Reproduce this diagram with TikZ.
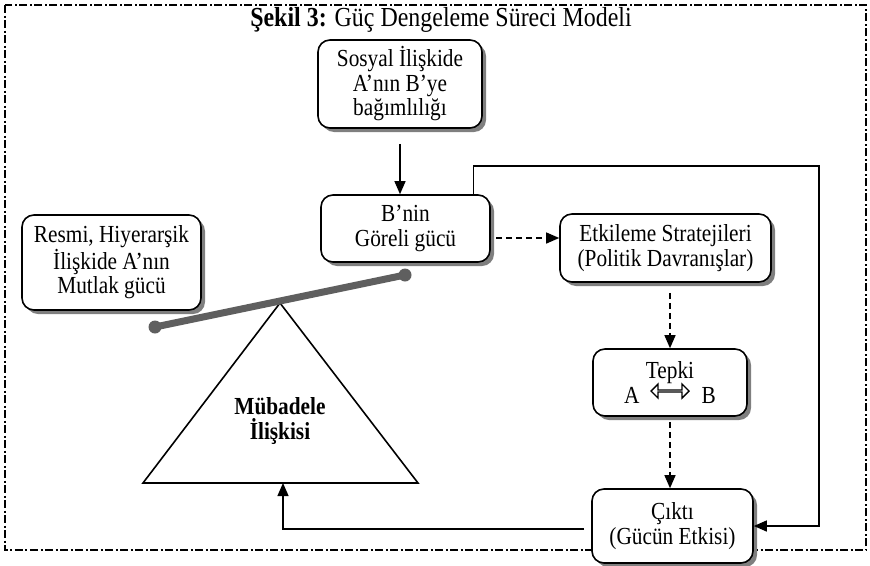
\documentclass[tikz,border=0pt]{standalone}
\usepackage{fontspec}
\setmainfont[FakeStretch=0.87]{Liberation Serif}
\usetikzlibrary{arrows.meta,shadows,shapes.arrows,calc}

\definecolor{shadowgray}{HTML}{7F7F7F}
\definecolor{beamgray}{HTML}{5F5F5F}

\tikzset{
  box/.style={draw, line width=1.6pt, rounded corners=12pt, fill=white,
    align=center, inner sep=2pt,
    drop shadow={shadow xshift=4pt, shadow yshift=-4pt, fill=shadowgray, opacity=1}},
  solidarrow/.style={line width=1.3pt, -{Triangle[length=13pt,width=11pt]}},
  dasharrow/.style={line width=1.3pt, dash pattern=on 6pt off 4pt,
    -{Triangle[length=13pt,width=11pt]}},
  frame/.style={line width=1.7pt, dash pattern=on 8pt off 2.5pt on 2pt off 2.5pt},
}

\begin{document}
\begin{tikzpicture}[x=1pt, y=-1pt, font=\fontsize{24.5}{24.5}\selectfont]
\useasboundingbox (0,0) rectangle (870,565);

% dash-dot frame around the figure
\draw[frame] (5,5) rectangle (866,550);

% title
\node (title) at (441,20) {\fontsize{27.5}{28}\selectfont\textbf{Şekil 3:} Güç Dengeleme Süreci Modeli};

% exchange relation: the fulcrum triangle
\coordinate (apex) at (280,303);
\coordinate (bl) at (143,483);
\coordinate (br) at (418,483);
\coordinate (tribase) at (283,483);
\draw[line width=1.6pt, fill=white] (apex) -- (br) -- (bl) -- cycle;
\node[font=\fontsize{24.5}{24.5}\selectfont\bfseries, align=center] (mub) at (280,421) {Mübadele\\İlişkisi};

% the balance beam resting on the triangle
\coordinate (beamL) at (155,327);
\coordinate (beamR) at (405,275);
\draw[beamgray, line width=7pt] (beamL) -- (beamR);
\fill[beamgray] (beamL) circle (6.5pt) (beamR) circle (6.5pt);

% boxes
\node[box, minimum width=164pt, minimum height=88pt] (sosyal) at (400,84)
  {Sosyal İlişkide\\A’nın B’ye\\bağımlılığı};
\node[box, minimum width=169pt, minimum height=67pt] (bnin) at (405.5,228.5)
  {B’nin\\Göreli gücü};
\node[box, minimum width=179pt, minimum height=95pt] (resmi) at (111.5,262.5)
  {Resmi, Hiyerarşik\\İlişkide A’nın\\Mutlak gücü};
\node[box, minimum width=211pt, minimum height=68pt] (etki) at (665.5,248)
  {Etkileme Stratejileri\\(Politik Davranışlar)};
\node[box, minimum width=154pt, minimum height=67pt] (tepki) at (670,382.5)
  {Tepki\\A\hspace{62pt}B};
\node[double arrow, draw, fill=white, line width=1.4pt, inner sep=0pt,
  minimum width=14pt, minimum height=38pt, double arrow head extend=4pt,
  double arrow head indent=0pt] (ab) at (670,391) {};
\node[box, minimum width=161pt, minimum height=74pt] (cikti) at (672.5,526)
  {Çıktı\\(Gücün Etkisi)};

% connectors
\draw[solidarrow] ([yshift=-15pt]sosyal.south) -- (sosyal.south |- bnin.north);
\coordinate (dstart) at (496,238);
\draw[dasharrow] (dstart) -- (dstart -| etki.west);
\draw[dasharrow] ([yshift=-10pt]etki.south -| tepki.north) -- (tepki.north);
\draw[dasharrow] ([yshift=-5pt]tepki.south) -- (tepki.south |- cikti.north);
\draw[solidarrow] ([xshift=-7pt,yshift=-3pt]cikti.west) -| (tribase);

% feedback loop from B's relative power to the outcome
\coordinate (fbtop) at (819,166);
\draw[solidarrow] ([xshift=-17pt]bnin.north east) |- (fbtop) |- (cikti.east);
\end{tikzpicture}
\end{document}
